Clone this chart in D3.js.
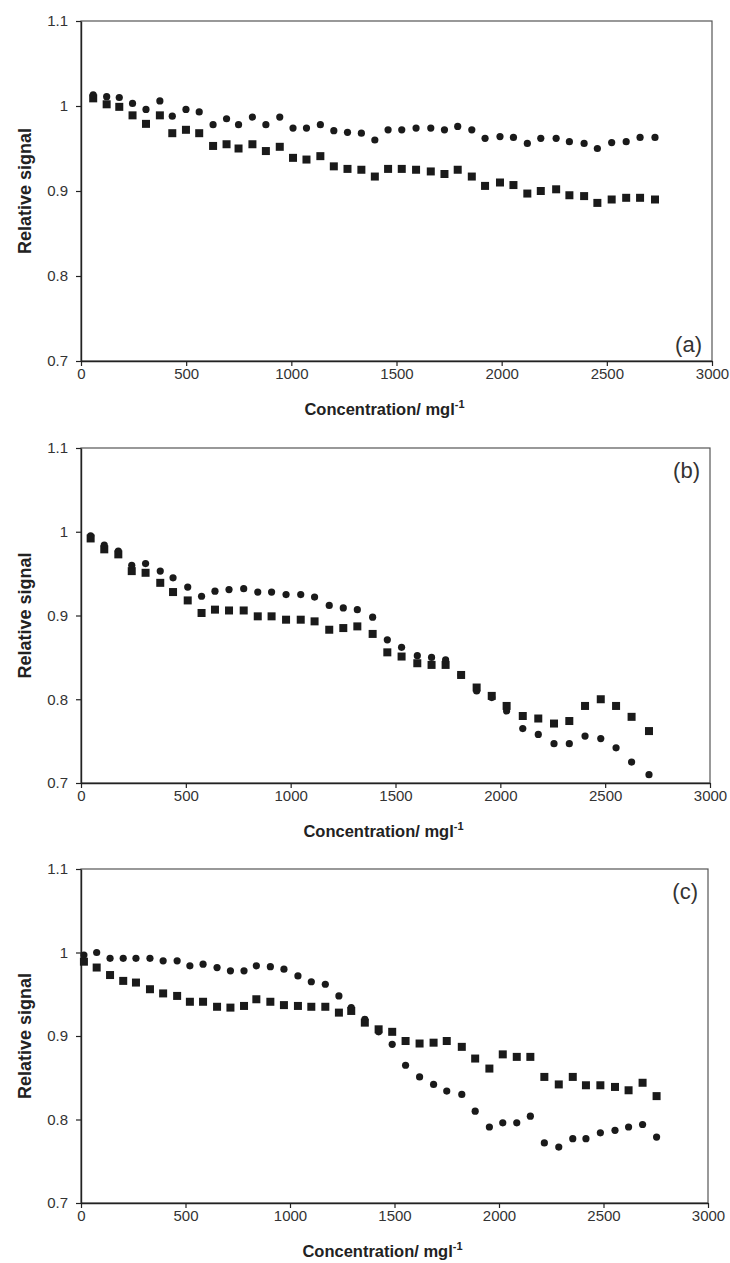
<!DOCTYPE html>
<html>
<head>
<meta charset="utf-8">
<script src="https://cdn.jsdelivr.net/npm/d3@7"></script>
<style>
  body { margin: 0; background: #fff; }
  svg { display: block; font-family: "Liberation Sans", Arial, sans-serif; }
</style>
</head>
<body>
<div id="chart"></div>
<script>
// ---- data ----
const xA = [58, 122, 182, 245, 309, 375, 434, 499, 562, 628, 692, 749, 815, 879, 945, 1008, 1072, 1138, 1202, 1267, 1333, 1397, 1460, 1525, 1593, 1663, 1728, 1791, 1858, 1921, 1992, 2056, 2122, 2186, 2259, 2322, 2392, 2455, 2523, 2592, 2658, 2729];
const circA = [1.013, 1.011, 1.010, 1.003, 0.996, 1.006, 0.988, 0.996, 0.993, 0.978, 0.985, 0.978, 0.987, 0.978, 0.987, 0.974, 0.974, 0.978, 0.971, 0.969, 0.968, 0.960, 0.972, 0.972, 0.974, 0.974, 0.972, 0.976, 0.972, 0.962, 0.964, 0.963, 0.956, 0.962, 0.962, 0.958, 0.956, 0.950, 0.957, 0.958, 0.963, 0.963];
const sqA = [1.009, 1.002, 0.999, 0.989, 0.979, 0.989, 0.968, 0.972, 0.968, 0.953, 0.955, 0.950, 0.955, 0.947, 0.952, 0.939, 0.937, 0.941, 0.929, 0.926, 0.925, 0.917, 0.926, 0.926, 0.925, 0.923, 0.920, 0.925, 0.917, 0.906, 0.910, 0.907, 0.897, 0.900, 0.902, 0.895, 0.894, 0.886, 0.890, 0.892, 0.892, 0.890];

const xB = [46, 111, 178, 242, 308, 378, 439, 509, 575, 639, 706, 776, 843, 909, 978, 1048, 1114, 1184, 1251, 1318, 1391, 1461, 1529, 1604, 1672, 1739, 1813, 1887, 1959, 2030, 2107, 2181, 2256, 2329, 2404, 2479, 2552, 2626, 2709];
const circB = [0.995, 0.984, 0.977, 0.960, 0.962, 0.953, 0.945, 0.934, 0.923, 0.929, 0.931, 0.932, 0.928, 0.928, 0.925, 0.925, 0.922, 0.912, 0.909, 0.907, 0.898, 0.871, 0.862, 0.852, 0.850, 0.847, 0.829, 0.810, 0.802, 0.786, 0.765, 0.758, 0.747, 0.747, 0.756, 0.753, 0.742, 0.725, 0.710];
const sqB = [0.992, 0.979, 0.973, 0.953, 0.951, 0.939, 0.928, 0.918, 0.903, 0.907, 0.906, 0.906, 0.899, 0.899, 0.895, 0.895, 0.893, 0.883, 0.885, 0.887, 0.878, 0.856, 0.851, 0.843, 0.841, 0.841, 0.829, 0.814, 0.804, 0.792, 0.780, 0.777, 0.771, 0.774, 0.792, 0.800, 0.792, 0.779, 0.762];

const xC = [14, 75, 139, 202, 263, 330, 393, 460, 521, 584, 651, 715, 780, 839, 906, 971, 1038, 1102, 1169, 1234, 1293, 1358, 1424, 1489, 1553, 1620, 1687, 1750, 1822, 1886, 1954, 2018, 2085, 2150, 2217, 2286, 2353, 2416, 2485, 2555, 2620, 2687, 2754];
const circC = [0.997, 1.000, 0.993, 0.993, 0.993, 0.993, 0.990, 0.990, 0.984, 0.986, 0.982, 0.978, 0.978, 0.984, 0.983, 0.980, 0.972, 0.965, 0.962, 0.948, 0.934, 0.920, 0.905, 0.890, 0.865, 0.851, 0.842, 0.834, 0.830, 0.810, 0.791, 0.796, 0.796, 0.804, 0.772, 0.767, 0.777, 0.777, 0.784, 0.787, 0.791, 0.794, 0.779];
const sqC = [0.989, 0.982, 0.973, 0.966, 0.964, 0.956, 0.951, 0.948, 0.941, 0.941, 0.935, 0.934, 0.936, 0.944, 0.941, 0.937, 0.936, 0.935, 0.935, 0.928, 0.930, 0.916, 0.908, 0.905, 0.894, 0.891, 0.892, 0.894, 0.887, 0.873, 0.861, 0.878, 0.875, 0.875, 0.851, 0.842, 0.851, 0.841, 0.841, 0.839, 0.835, 0.844, 0.828];

const xTicks = [0, 500, 1000, 1500, 2000, 2500, 3000];
const yTicks = [0.7, 0.8, 0.9, 1.0, 1.1];

const panels = [
  { label: "(a)", x: xA, circ: circA, sq: sqA, top: 21, bottom: 361, right: 712, labelPos: "bottom" },
  { label: "(b)", x: xB, circ: circB, sq: sqB, top: 448, bottom: 783, right: 710, labelPos: "top" },
  { label: "(c)", x: xC, circ: circC, sq: sqC, top: 869, bottom: 1203, right: 708, labelPos: "top" },
];

const width = 730, height = 1263, left = 81;
const textColor = "#333";

const svg = d3.select("#chart").append("svg")
  .attr("width", width)
  .attr("height", height);

panels.forEach((p) => {
  const x = d3.scaleLinear().domain([0, 3000]).range([left, p.right]);
  const y = d3.scaleLinear().domain([0.7, 1.1]).range([p.bottom, p.top]);
  const g = svg.append("g");

  // frame (top / right lighter)
  g.append("rect")
    .attr("x", left).attr("y", p.top)
    .attr("width", p.right - left).attr("height", p.bottom - p.top)
    .attr("fill", "none").attr("stroke", "#555").attr("stroke-width", 1.2);

  // axes
  const xAxis = d3.axisBottom(x).tickValues(xTicks).tickSize(5).tickSizeOuter(0).tickPadding(2)
    .tickFormat(d3.format("d"));
  const yAxis = d3.axisLeft(y).tickValues(yTicks).tickSize(5).tickSizeOuter(0).tickPadding(8)
    .tickFormat((d) => (d === 1 ? "1" : d3.format(".1f")(d)));

  const styleAxis = (a) => {
    a.select(".domain").attr("stroke", "#222").attr("stroke-width", 1.4);
    a.selectAll(".tick line").attr("stroke", "#222").attr("stroke-width", 1.2);
    a.selectAll("text").attr("fill", textColor).style("font-size", "15px")
      .attr("font-family", "Liberation Sans, Arial, sans-serif");
  };
  g.append("g").attr("transform", `translate(0,${p.bottom})`).call(xAxis).call(styleAxis);
  g.append("g").attr("transform", `translate(${left},0)`).call(yAxis).call(styleAxis);

  // axis titles
  g.append("text")
    .attr("x", (left + p.right) / 2 - 12).attr("y", p.bottom + 54)
    .attr("text-anchor", "middle")
    .attr("fill", "#222").attr("font-weight", "bold").style("font-size", "16.5px")
    .call((t) => {
      t.append("tspan").text("Concentration/ mgl");
      t.append("tspan").attr("dy", -7).style("font-size", "11px").text("-1");
    });
  g.append("text")
    .attr("transform", `translate(31,${(p.top + p.bottom) / 2}) rotate(-90)`)
    .attr("text-anchor", "middle")
    .attr("fill", "#222").attr("font-weight", "bold").style("font-size", "18px")
    .text("Relative signal");

  // panel label
  g.append("text")
    .attr("x", p.right - 10)
    .attr("y", p.labelPos === "bottom" ? p.bottom - 9 : p.top + 30)
    .attr("text-anchor", "end")
    .attr("fill", textColor).style("font-size", "22px")
    .text(p.label);

  // squares
  const s = 8;
  g.append("g").selectAll("rect")
    .data(p.x.map((xv, i) => [xv, p.sq[i]]))
    .join("rect")
    .attr("x", (d) => x(d[0]) - s / 2)
    .attr("y", (d) => y(d[1]) - s / 2)
    .attr("width", s).attr("height", s)
    .attr("fill", "#1a1a1a");

  // circles
  g.append("g").selectAll("circle")
    .data(p.x.map((xv, i) => [xv, p.circ[i]]))
    .join("circle")
    .attr("cx", (d) => x(d[0]))
    .attr("cy", (d) => y(d[1]))
    .attr("r", 3.6)
    .attr("fill", "#1a1a1a");
});
</script>
</body>
</html>
